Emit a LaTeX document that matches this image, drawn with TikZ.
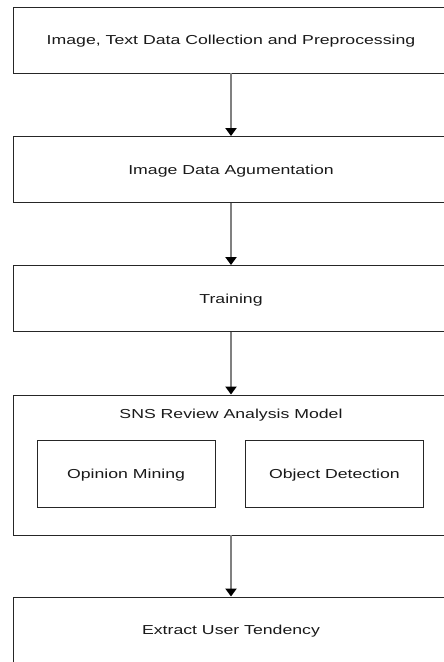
\documentclass[tikz,border=0pt]{standalone}
\usepackage{fontspec}
\setmainfont{Liberation Sans}
\usepackage{graphicx}
\usetikzlibrary{arrows.meta}

\newcommand{\widetext}[1]{\scalebox{1.36}[1]{#1}}

\begin{document}
\begin{tikzpicture}[x=1pt,y=-1pt,
        label text/.style={font=\fontsize{13}{15}\selectfont,text=black!90,text height=9.3pt,text depth=0pt},
        stage/.style={label text,draw=black!85,line width=0.9pt,minimum width=436pt,minimum height=66pt,inner sep=0pt},
        part/.style={label text,draw=black!85,line width=0.9pt,minimum width=178pt,minimum height=67pt,inner sep=0pt},
        flow/.style={draw=black!50,line width=2.6pt,-{Triangle[color=black,length=8pt,width=11pt]}}]
                \useasboundingbox (0, 0) rectangle (444, 662);
                \node[stage](collect)at(231, 40){\widetext{Image, Text Data Collection and Preprocessing}};
                \node[stage](augment)at(231, 169.5){\widetext{Image Data Agumentation}};
                \node[stage](train)at(231, 298.5){\widetext{Training}};
                \node[stage,minimum height=140pt](model)at(231, 465){};
                \node[label text](title)at(231, 414){\widetext{SNS Review Analysis Model}};
                \node[part](opinion)at(126, 473.5){\widetext{Opinion Mining}};
                \node[part](object)at(334.5, 473.5){\widetext{Object Detection}};
                \node[stage](extract)at(231, 630){\widetext{Extract User Tendency}};
                \path[flow](collect) edge (augment)
                (augment) edge (train)
                (train) edge (model)
                (model) edge (extract);
            \end{tikzpicture}
\end{document}
